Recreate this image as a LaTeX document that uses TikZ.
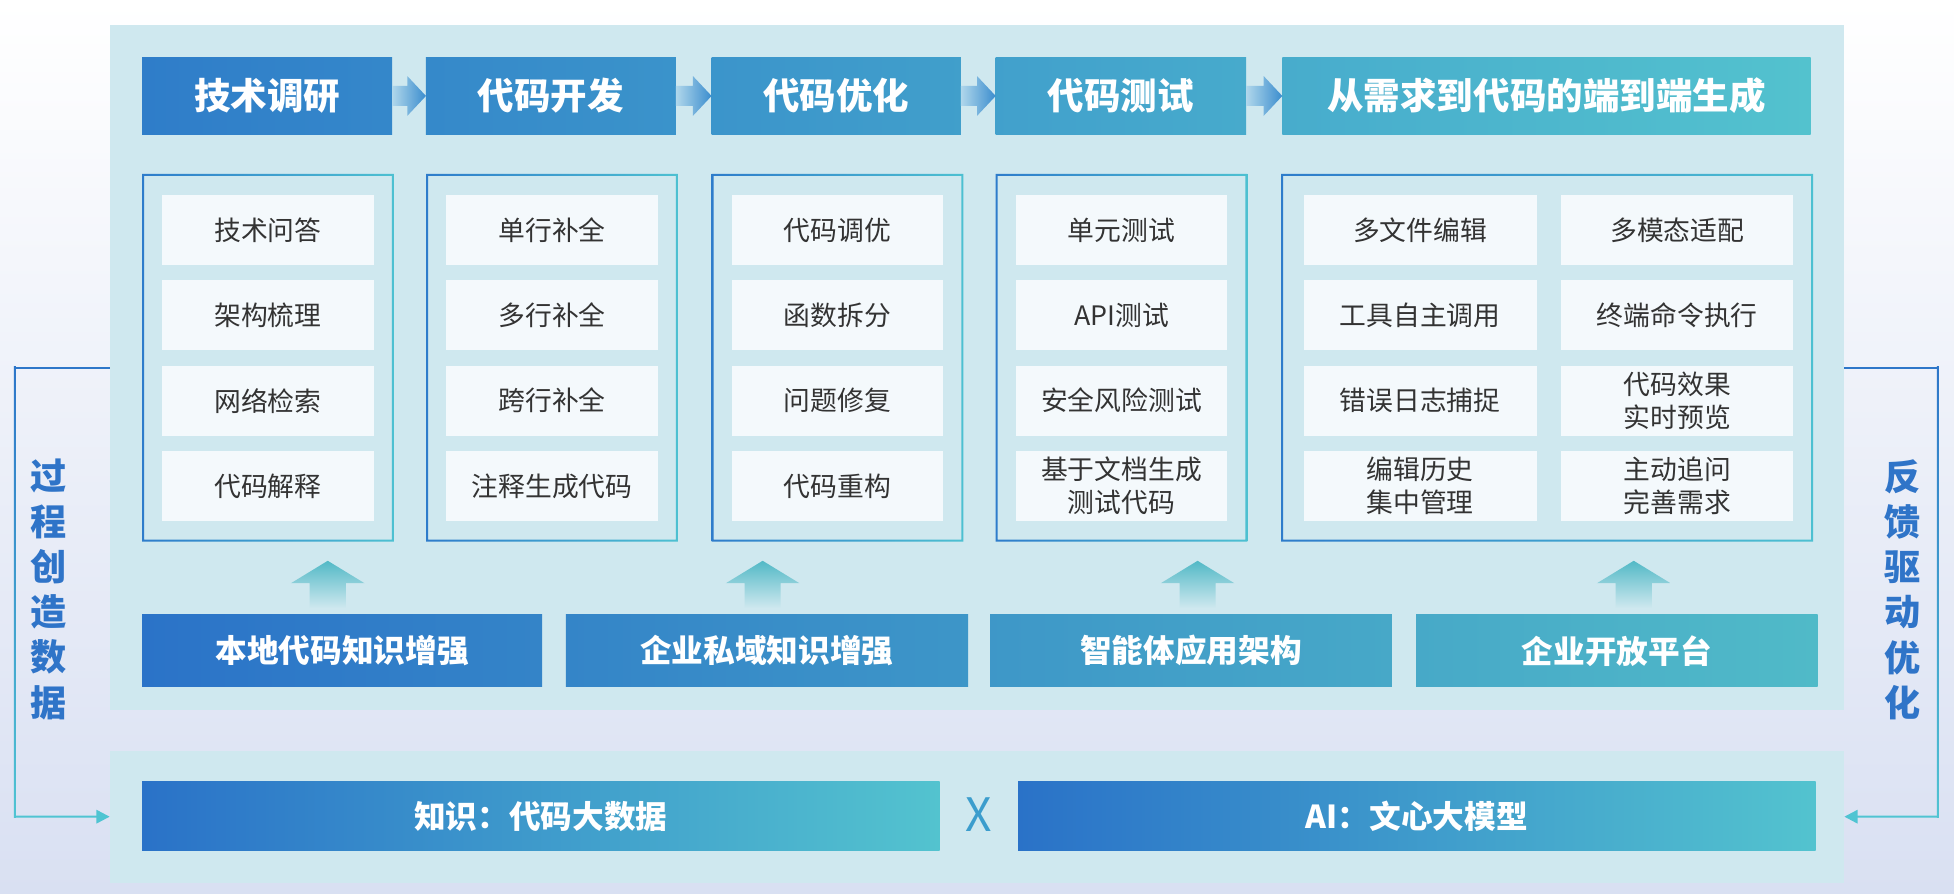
\documentclass[tikz,border=0pt]{standalone}
\usepackage{fontspec}
\setmainfont{Noto Sans CJK SC}
\usetikzlibrary{arrows.meta}
\definecolor{panelbg}{HTML}{CFE8EF}
\definecolor{itemfill}{HTML}{F4F9FC}
\definecolor{itemtxt}{HTML}{333333}
\definecolor{hdrL}{HTML}{2F7DC9}
\definecolor{hdrR}{HTML}{53C2CE}
\definecolor{botL}{HTML}{2B73C8}
\definecolor{botR}{HTML}{50BAC8}
\definecolor{lowL}{HTML}{2A72C8}
\definecolor{lowR}{HTML}{53C3CF}
\definecolor{bdL}{HTML}{2E7CCB}
\definecolor{bdR}{HTML}{4DC0D1}
\definecolor{sideB}{HTML}{2E76C9}
\definecolor{sideT}{HTML}{50C4D2}
\definecolor{sidetxt}{HTML}{2F74C8}
\definecolor{arrT}{HTML}{52B9C6}
\definecolor{arrM}{HTML}{8DD0DA}
\definecolor{harL}{HTML}{B0D7EB}
\definecolor{harR}{HTML}{3B8DCE}
\definecolor{bgmid}{HTML}{F8F9FC}
\definecolor{bgbot}{HTML}{D9E0F2}
\definecolor{xcol}{HTML}{3C9DCD}
\newcommand\gframe[1]{%
  \shade[left color=bdL, right color=bdR, even odd rule]
    (#1.north west) rectangle (#1.south east)
    ([xshift=1.6pt,yshift=-1.6pt]#1.north west) rectangle ([xshift=-1.6pt,yshift=1.6pt]#1.south east);}
\newcommand\harrow[2]{%
  \shade[left color=harL, right color=harR]
    ([yshift=8pt]#1.east) -- ([xshift=-15pt,yshift=8pt]#2.west) -- ([xshift=-15pt,yshift=16pt]#2.west)
    -- (#2.west) -- ([xshift=-15pt,yshift=-16pt]#2.west) -- ([xshift=-15pt,yshift=-8pt]#2.west)
    -- ([yshift=-8pt]#1.east) -- cycle;}
\newcommand\uparr[1]{%
  \shade[top color=arrT, middle color=arrM, bottom color=panelbg]
    (#1,450) -- (#1+29.5,468) -- (#1+14.5,468) -- (#1+14.5,488) -- (#1-14.5,488) -- (#1-14.5,468) -- (#1-29.5,468) -- cycle;}
\begin{document}
\begin{tikzpicture}[x=1pt,y=-1pt,
  box/.style={inner sep=0pt, outer sep=0pt, anchor=north west},
  panel/.style={box, fill=panelbg},
  hdr/.style={box, minimum height=62pt, text=white, font=\bfseries\fontsize{29.3}{35}\selectfont},
  item/.style={box, fill=itemfill, text=itemtxt, minimum height=56pt, align=center, font=\fontsize{21.5}{26.5}\selectfont},
  base/.style={box, minimum height=57.5pt, text=white, font=\bfseries\fontsize{25.4}{30}\selectfont},
  low/.style={box, minimum height=55.7pt, minimum width=640pt, text=white, left color=lowL, right color=lowR, font=\bfseries\fontsize{25.4}{30}\selectfont},
  frame/.style={box, minimum height=295pt},
  sidetext/.style={text=sidetxt, align=center, font=\bfseries\fontsize{29}{36.3}\selectfont, inner sep=0pt},
  link/.style={line width=1.6pt},
]
\useasboundingbox (0,0) rectangle (1568,717);
\shade[top color=white, middle color=bgmid, bottom color=bgbot] (0,0) rectangle (1568,717);

% panels
\node[panel, minimum width=1392pt, minimum height=550pt] (up) at (88,20) {};
\node[panel, minimum width=1392pt, minimum height=105.9pt] (lp) at (88,602.4) {};

% headers
\node[hdr, minimum width=200.6pt, left color=hdrR!0!hdrL, right color=hdrR!15!hdrL] (h1) at (114,46) {技术调研};
\node[hdr, minimum width=200.6pt, left color=hdrR!17!hdrL, right color=hdrR!32!hdrL] (h2) at (341.8,46) {代码开发};
\node[hdr, minimum width=200pt, left color=hdrR!34!hdrL, right color=hdrR!49!hdrL] (h3) at (571,46) {代码优化};
\node[hdr, minimum width=201pt, left color=hdrR!51!hdrL, right color=hdrR!66!hdrL] (h4) at (799,46) {代码测试};
\node[hdr, minimum width=424pt, left color=hdrR!68!hdrL, right color=hdrR!100!hdrL] (h5) at (1029,46) {从需求到代码的端到端生成};
\harrow{h1}{h2}
\harrow{h2}{h3}
\harrow{h3}{h4}
\harrow{h4}{h5}

% frames
\node[frame, minimum width=202pt] (p1) at (114,139.6) {};
\node[frame, minimum width=202pt] (p2) at (342,139.6) {};
\node[frame, minimum width=202pt] (p3) at (571,139.6) {};
\node[frame, minimum width=202pt] (p4) at (799,139.6) {};
\node[frame, minimum width=427pt] (p5) at (1028,139.6) {};
\gframe{p1}\gframe{p2}\gframe{p3}\gframe{p4}\gframe{p5}

% items
\foreach \t [count=\i] in {技术问答,架构梳理,网络检索,代码解释}
  \node[item, minimum width=170pt] (a\i) at (130,{156.5+68.5*(\i-1)}) {\t};
\foreach \t [count=\i] in {单行补全,多行补全,跨行补全,注释生成代码}
  \node[item, minimum width=170pt] (b\i) at (358,{156.5+68.5*(\i-1)}) {\t};
\foreach \t [count=\i] in {代码调优,函数拆分,问题修复,代码重构}
  \node[item, minimum width=170pt] (c\i) at (587,{156.5+68.5*(\i-1)}) {\t};
\foreach \t [count=\i] in {单元测试,API测试,安全风险测试,{基于文档生成\\测试代码}}
  \node[item, minimum width=170pt] (d\i) at (815,{156.5+68.5*(\i-1)}) {\t};
\foreach \t [count=\i] in {多文件编辑,工具自主调用,错误日志捕捉,{编辑历史\\集中管理}}
  \node[item, minimum width=187pt] (e\i) at (1046,{156.5+68.5*(\i-1)}) {\t};
\foreach \t [count=\i] in {多模态适配,终端命令执行,{代码效果\\实时预览},{主动追问\\完善需求}}
  \node[item, minimum width=186pt] (f\i) at (1253,{156.5+68.5*(\i-1)}) {\t};

% up arrows
\uparr{263}
\uparr{612}
\uparr{961}
\uparr{1311}

% base row
\node[base, minimum width=321pt, left color=botR!0!botL, right color=botR!24!botL] (k1) at (114,493.5) {本地代码知识增强};
\node[base, minimum width=322.8pt, left color=botR!25!botL, right color=botR!49!botL] (k2) at (454,493.5) {企业私域知识增强};
\node[base, minimum width=322.5pt, left color=botR!51!botL, right color=botR!75!botL] (k3) at (794.5,493.5) {智能体应用架构};
\node[base, minimum width=322.3pt, left color=botR!76!botL, right color=botR!100!botL] (k4) at (1136.3,493.5) {企业开放平台};

% lower row
\node[low] (m1) at (114,627) {知识：代码大数据};
\node[low] (m2) at (817,627) {AI：文心大模型};
\node[text=xcol, inner sep=0pt, font=\fontsize{37}{40}\selectfont] (xx) at (785,653.5) {X};

% side connectors
\coordinate (lc1) at (12,295);
\coordinate (lc2) at (12,655.35);
\coordinate (rc1) at (1555,295);
\coordinate (rc2) at (1555,655.35);
\draw[link, sideB] (up.west) -- (lc1);
\shade[top color=sideB, bottom color=sideT] ([xshift=-0.8pt,yshift=0.8pt]lc1) rectangle ([xshift=0.8pt,yshift=-0.8pt]lc2);
\draw[link, sideT, -{Triangle[length=10.7pt,width=10.8pt]}] (lc2) -- (lp.west);
\draw[link, sideB] (up.east) -- (rc1);
\shade[top color=sideB, bottom color=sideT] ([xshift=-0.8pt,yshift=0.8pt]rc1) rectangle ([xshift=0.8pt,yshift=-0.8pt]rc2);
\draw[link, sideT, -{Triangle[length=10.7pt,width=10.8pt]}] (rc2) -- (lp.east);

\node[sidetext] (lt) at (39,473) {过\\程\\创\\造\\数\\据};
\node[sidetext] (rt) at (1527,473) {反\\馈\\驱\\动\\优\\化};
\end{tikzpicture}
\end{document}
